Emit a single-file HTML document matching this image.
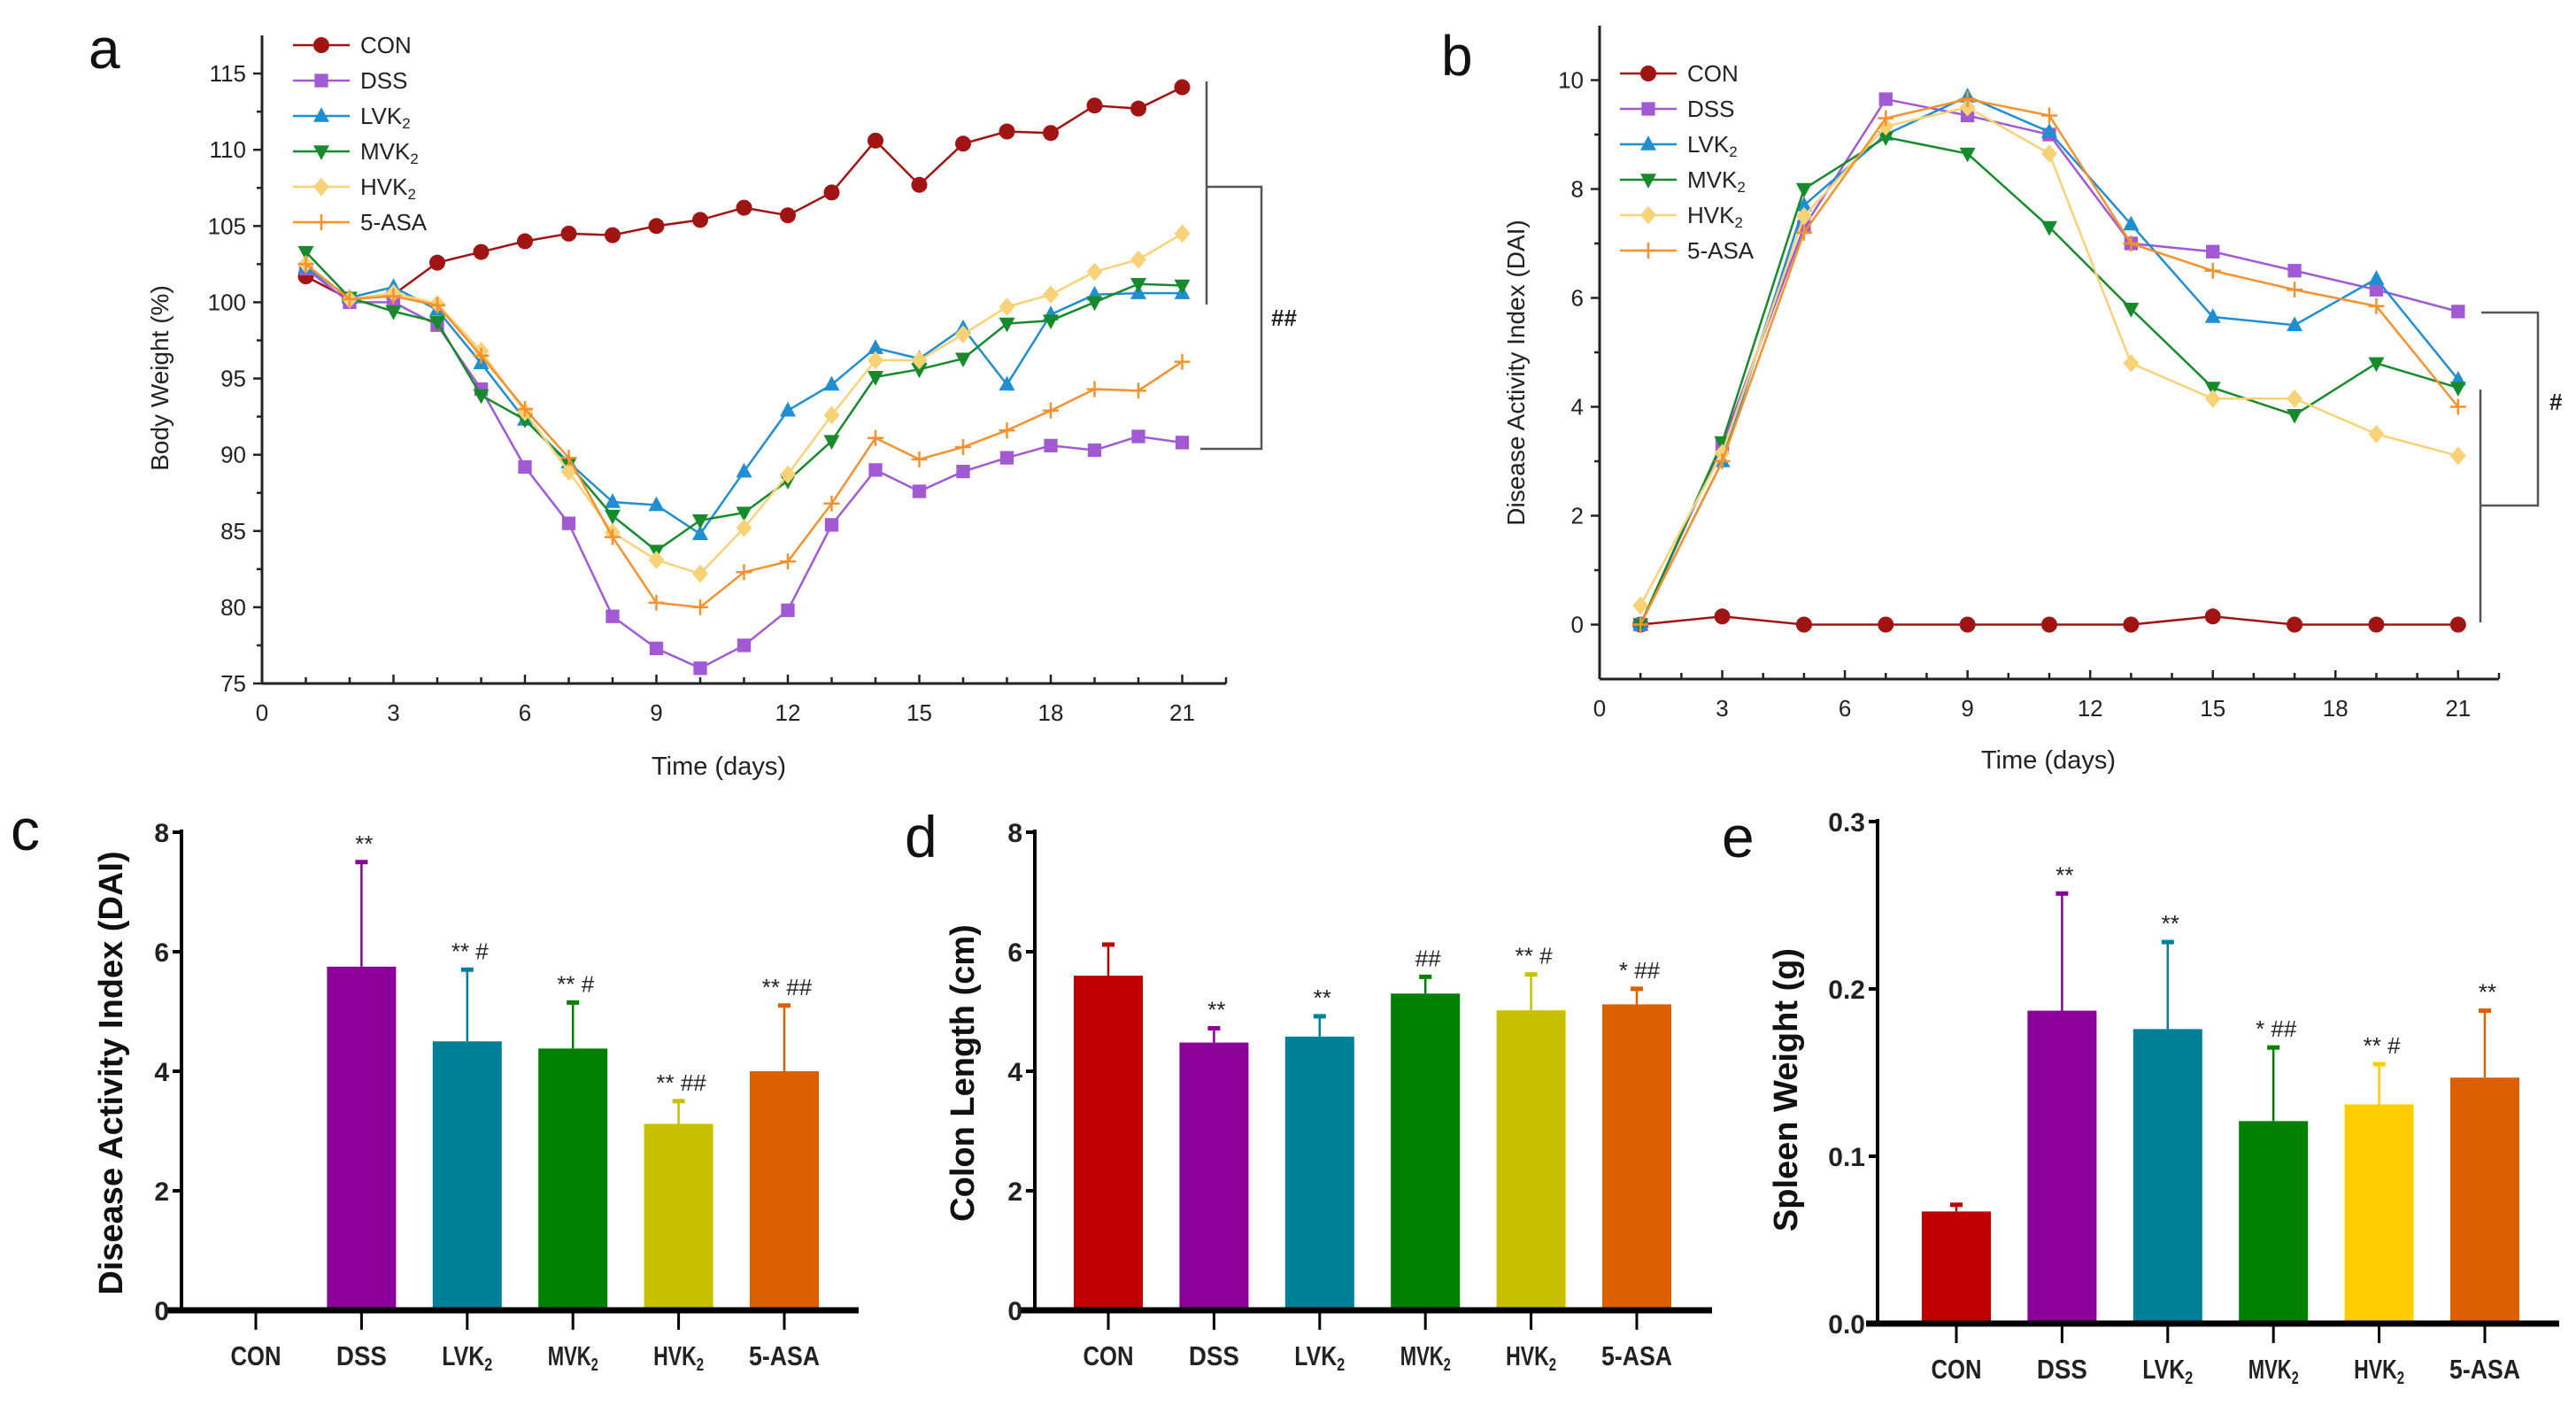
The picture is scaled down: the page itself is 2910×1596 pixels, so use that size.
<!DOCTYPE html>
<html><head><meta charset="utf-8">
<style>
html,body{margin:0;padding:0;background:#fff;}
svg{display:block;font-family:"Liberation Sans",sans-serif;}
</style></head>
<body>
<svg id="fig" width="2910" height="1596" viewBox="0 0 2910 1596" xmlns="http://www.w3.org/2000/svg"></svg>
<script>
// ---------- Panel a data ----------
const daysA = [1,2,3,4,5,6,7,8,9,10,11,12,13,14,15,16,17,18,19,20,21];
const bwCON = [101.7,100.2,100.5,102.6,103.3,104.0,104.5,104.4,105.0,105.4,106.2,105.7,107.2,110.6,107.7,110.4,111.2,111.1,112.9,112.7,114.1];
const bwDSS = [102.2,100.0,100.0,98.5,94.3,89.2,85.5,79.4,77.3,76.0,77.5,79.8,85.4,89.0,87.6,88.9,89.8,90.6,90.3,91.2,90.8];
const bwLVK = [102.3,100.3,101.0,99.5,96.0,92.3,89.5,86.9,86.7,84.8,88.9,92.9,94.6,97.0,96.3,98.3,94.6,99.2,100.5,100.6,100.6];
const bwMVK = [103.3,100.3,99.4,98.7,93.9,92.3,89.4,86.0,83.7,85.7,86.2,88.3,90.9,95.1,95.6,96.3,98.6,98.8,100.0,101.2,101.1];
const bwHVK = [102.5,100.2,100.6,99.9,96.8,92.8,88.9,84.9,83.1,82.2,85.2,88.7,92.6,96.2,96.2,97.9,99.7,100.5,102.0,102.8,104.5];
const bwASA = [102.5,100.2,100.4,99.8,96.5,93.0,89.8,84.6,80.3,80.0,82.3,83.0,86.8,91.1,89.7,90.5,91.6,92.9,94.3,94.2,96.1];
const ticksAY = [75,80,85,90,95,100,105,110,115];
const ticksX = [0,3,6,9,12,15,18,21];
// ---------- Panel b data ----------
const daysB = [1,3,5,7,9,11,13,15,17,19,21];
const daiCON = [0,0.15,0,0,0,0,0,0.15,0,0,0];
const daiDSS = [0,3.3,7.3,9.65,9.35,9.0,7.0,6.85,6.5,6.15,5.75];
const daiLVK = [0,3.0,7.7,9.0,9.7,9.05,7.35,5.65,5.5,6.35,4.5];
const daiMVK = [0,3.35,8.0,8.95,8.65,7.3,5.8,4.35,3.85,4.8,4.35];
const daiHVK = [0.35,3.15,7.5,9.15,9.5,8.65,4.8,4.15,4.15,3.5,3.1];
const daiASA = [0,3.0,7.2,9.3,9.65,9.35,7.0,6.5,6.15,5.85,4.0];
const ticksBY = [0,2,4,6,8,10];
// ---------- Bar panels data ----------
const groups = ["CON","DSS","LVK","MVK","HVK","5-ASA"];
const daiMean = [0,5.75,4.5,4.38,3.12,4.0];
const daiErr  = [0,1.75,1.2,0.77,0.38,1.1];
const daiSig  = ["","**","** #","** #","** ##","** ##"];
const colonMean = [5.6,4.48,4.58,5.3,5.02,5.12];
const colonErr  = [0.52,0.24,0.34,0.28,0.6,0.26];
const colonSig  = ["","**","**","##","** #","* ##"];
const spleenMean = [0.067,0.187,0.176,0.121,0.131,0.147];
const spleenErr  = [0.004,0.07,0.052,0.044,0.024,0.04];
const spleenSig  = ["","**","**","* ##","** #","**"];
const ticksCD = [0,2,4,6,8];
const ticksE = [0.0,0.1,0.2,0.3];

const NS="http://www.w3.org/2000/svg";
const svg=document.getElementById('fig');
function mk(tag,attrs,parent,text){const e=document.createElementNS(NS,tag);for(const k in attrs)e.setAttribute(k,attrs[k]);if(text!==undefined)e.textContent=text;(parent||svg).appendChild(e);return e;}
function grp(name,parent){const g=mk('g',{},parent);return g;}

const lineCols={CON:'#a01414',DSS:'#a25ad4',LVK:'#1f8fd2',MVK:'#178a2c',HVK:'#f7d277',ASA:'#f5922e'};
const lineMk={CON:'circle',DSS:'square',LVK:'tri',MVK:'tridown',HVK:'diamond',ASA:'plus'};
function marker(g,type,x,y,c,r){
  if(type==='circle') return mk('circle',{cx:x,cy:y,r:r,fill:c},g);
  if(type==='square') return mk('rect',{x:x-r*0.85,y:y-r*0.85,width:r*1.7,height:r*1.7,fill:c},g);
  if(type==='tri') return mk('polygon',{points:`${x},${y-r*1.1} ${x-r},${y+r*0.75} ${x+r},${y+r*0.75}`,fill:c},g);
  if(type==='tridown') return mk('polygon',{points:`${x},${y+r*1.1} ${x-r},${y-r*0.75} ${x+r},${y-r*0.75}`,fill:c},g);
  if(type==='diamond') return mk('polygon',{points:`${x},${y-r*1.15} ${x+r},${y} ${x},${y+r*1.15} ${x-r},${y}`,fill:c},g);
  if(type==='plus') return mk('path',{d:`M${x-r} ${y}H${x+r}M${x} ${y-r}V${y+r}`,stroke:c,'stroke-width':2.5},g);
}
function sub(t,parent,attrs,name){
  const e=mk('text',attrs,parent);
  if(/VK$/.test(t)){e.appendChild(document.createTextNode(t));mk('tspan',{'font-size':'65%',dy:'0.3em'},e,'2');}
  else e.textContent=t;
  
  return e;
}

function linePanel(cfg){
  const g=grp(cfg.name);
  const sx=v=>cfg.x0+(v-cfg.xmin)*(cfg.x1-cfg.x0)/(cfg.xmax-cfg.xmin);
  const sy=v=>cfg.y0+(v-cfg.ymin)*(cfg.y1-cfg.y0)/(cfg.ymax-cfg.ymin);
  const ax=grp('axes',g);
  mk('line',{x1:sx(cfg.xmin),y1:sy(cfg.ymin),x2:sx(cfg.xmax),y2:sy(cfg.ymin),stroke:'#222','stroke-width':3},ax);
  mk('line',{x1:sx(cfg.xmin),y1:sy(cfg.ymin),x2:sx(cfg.xmin),y2:sy(cfg.ymax),stroke:'#222','stroke-width':3},ax);
  for(let d=1;d<=cfg.xmax;d++){const big=ticksX.includes(d);mk('line',{x1:sx(d),x2:sx(d),y1:sy(cfg.ymin),y2:sy(cfg.ymin)-(big?10:7),stroke:'#222','stroke-width':2.5},ax);}
  ticksX.forEach(t=>{const e=mk('text',{x:sx(t),y:sy(cfg.ymin)+42,'font-size':26,'text-anchor':'middle',fill:'#222'},ax,String(t));});
  cfg.yticks.forEach((t,i)=>{
    mk('line',{x1:sx(cfg.xmin),x2:sx(cfg.xmin)-10,y1:sy(t),y2:sy(t),stroke:'#222','stroke-width':2.5},ax);
    if(i<cfg.yticks.length-1){const m=(t+cfg.yticks[i+1])/2;mk('line',{x1:sx(cfg.xmin),x2:sx(cfg.xmin)-6,y1:sy(m),y2:sy(m),stroke:'#222','stroke-width':2.5},ax);}
    const e=mk('text',{x:sx(cfg.xmin)-18,y:sy(t)+9,'font-size':26,'text-anchor':'end',fill:'#222'},ax,String(t));
  });
  const xt=mk('text',{x:cfg.xtx,y:cfg.xty,'font-size':29,'text-anchor':'middle',fill:'#222'},g,'Time (days)');
  
  const yt=mk('text',{x:0,y:0,'font-size':28,'text-anchor':'middle',fill:'#222',transform:`translate(${cfg.ytx},${cfg.yty}) rotate(-90)`},g,cfg.ytitle);
  
  const pl=mk('text',{x:cfg.plx,y:cfg.ply,'font-size':64,fill:'#111'},g,cfg.letter);
  
  cfg.series.forEach(s=>{
    const sg=grp('series-'+s.key.toLowerCase(),g);
    const pts=cfg.xs.map((d,i)=>sx(d)+','+sy(s.v[i])).join(' ');
    mk('polyline',{points:pts,fill:'none',stroke:lineCols[s.key],'stroke-width':2.5},sg);
    cfg.xs.forEach((d,i)=>{const m=marker(sg,lineMk[s.key],sx(d),sy(s.v[i]),lineCols[s.key],9);});
  });
  const lg=grp('legend',g);
  cfg.series.forEach((s,i)=>{
    const y=cfg.ly+i*cfg.lsp;
    const le=grp('legend-entry',lg);
    mk('line',{x1:cfg.lx-32,x2:cfg.lx+32,y1:y,y2:y,stroke:lineCols[s.key],'stroke-width':2.5},le);
    marker(le,lineMk[s.key],cfg.lx,y,lineCols[s.key],9);
    sub(s.label,le,{x:cfg.lx+44,y:y+9,'font-size':26,fill:'#222'},'legend-label');
  });
  return {sx,sy,g};
}
const serA=[{key:'CON',label:'CON',v:bwCON},{key:'DSS',label:'DSS',v:bwDSS},{key:'LVK',label:'LVK',v:bwLVK},{key:'MVK',label:'MVK',v:bwMVK},{key:'HVK',label:'HVK',v:bwHVK},{key:'ASA',label:'5-ASA',v:bwASA}];
const pa=linePanel({name:'panel-a-body-weight',x0:296,x1:1385,xmin:0,xmax:22,y0:772,y1:40,ymin:75,ymax:117.5,yticks:ticksAY,xs:daysA,series:serA,
  xtx:812,xty:875,ytitle:'Body Weight (%)',ytx:190,yty:427,letter:'a',plx:100,ply:77,lx:363,ly:51,lsp:40});
let bg=grp('significance-bracket-a',pa.g);
mk('path',{d:'M1363 92V344',stroke:'#555','stroke-width':2.5,fill:'none'},bg);
mk('path',{d:'M1363 211H1425V507H1356',stroke:'#555','stroke-width':2.5,fill:'none'},bg);
mk('text',{x:1436,y:368,'font-size':26,'font-weight':'bold',fill:'#222'},bg,'##');

const serB=[{key:'CON',label:'CON',v:daiCON},{key:'DSS',label:'DSS',v:daiDSS},{key:'LVK',label:'LVK',v:daiLVK},{key:'MVK',label:'MVK',v:daiMVK},{key:'HVK',label:'HVK',v:daiHVK},{key:'ASA',label:'5-ASA',v:daiASA}];
const pb=linePanel({name:'panel-b-dai-time',x0:1807,x1:2823,xmin:0,xmax:22,y0:767,y1:29,ymin:-1,ymax:11,yticks:ticksBY,xs:daysB,series:serB,
  xtx:2314,xty:868,ytitle:'Disease Activity Index (DAI)',ytx:1722,yty:421,letter:'b',plx:1628,ply:85,lx:1862,ly:83,lsp:40});
bg=grp('significance-bracket-b',pb.g);
mk('path',{d:'M2803 353H2867V571H2802',stroke:'#555','stroke-width':2.5,fill:'none'},bg);
mk('path',{d:'M2802 440V703',stroke:'#555','stroke-width':2.5,fill:'none'},bg);
mk('text',{x:2880,y:463,'font-size':26,'font-weight':'bold',fill:'#222'},bg,'#');

function barPanel(cfg){
  const g=grp(cfg.name);
  const sy=v=>cfg.y0+(v-cfg.ymin)*(cfg.y1-cfg.y0)/(cfg.ymax-cfg.ymin);
  const sx=i=>cfg.c0+i*cfg.step;
  const bw=78;
  cfg.mean.forEach((m,i)=>{
    const c=cfg.colors[i];
    const bgp=grp('bar-'+groups[i].toLowerCase(),g);
    if(m>0){
      const top=sy(m+cfg.err[i]);
      mk('line',{x1:sx(i),x2:sx(i),y1:sy(m),y2:top,stroke:c,'stroke-width':2.5},bgp);
      mk('line',{x1:sx(i)-7,x2:sx(i)+7,y1:top,y2:top,stroke:c,'stroke-width':5},bgp);
      mk('rect',{x:sx(i)-bw/2,y:sy(m),width:bw,height:sy(cfg.ymin)-sy(m),fill:c},bgp);
    }
    if(cfg.sig[i]){const t=mk('text',{x:sx(i)+3,y:sy(m+cfg.err[i])-12,'font-size':26,'text-anchor':'middle',fill:'#222'},bgp,cfg.sig[i]);}
  });
  const ax=grp('axes',g);
  mk('line',{x1:cfg.ax0,x2:cfg.ax1,y1:sy(cfg.ymin),y2:sy(cfg.ymin),stroke:'#000','stroke-width':7},ax);
  mk('line',{x1:cfg.yx,x2:cfg.yx,y1:sy(cfg.ymin),y2:sy(cfg.ymax)-3,stroke:'#000','stroke-width':4},ax);
  cfg.ticks.forEach(t=>{
    mk('line',{x1:cfg.yx,x2:cfg.yx-10,y1:sy(t),y2:sy(t),stroke:'#000','stroke-width':4},ax);
    const e=mk('text',{x:cfg.yx-14,y:sy(t)+11,'font-size':30,'font-weight':'bold','text-anchor':'end',fill:'#222'},ax,cfg.fmt(t));
  });
  groups.forEach((n,i)=>{
    mk('line',{x1:sx(i),x2:sx(i),y1:sy(cfg.ymin),y2:sy(cfg.ymin)+22,stroke:'#000','stroke-width':3},ax);
    sub(n,ax,{x:sx(i),y:sy(cfg.ymin)+62,'font-size':31,'font-weight':'bold','text-anchor':'middle',fill:'#222',textLength:Math.min(n.length*19,80),lengthAdjust:'spacingAndGlyphs'},'x-tick-label');
  });
  const yt=mk('text',{x:0,y:0,'font-size':38,'font-weight':'bold','text-anchor':'middle',fill:'#111',transform:`translate(${cfg.ytx},${cfg.yty}) rotate(-90)`},g,cfg.ytitle);
  
  const pl=mk('text',{x:cfg.plx,y:cfg.ply,'font-size':66,fill:'#111'},g,cfg.letter);
  
}
const colsCD=['#c00000','#8b0099','#007f99','#008000','#c6c000','#dd6000'];
const colsE=['#c00000','#8b0099','#007f99','#008000','#ffcc00','#dd6000'];
barPanel({name:'panel-c-dai-bars',y0:1480,y1:940,ymin:0,ymax:8,c0:289,step:119.4,mean:daiMean,err:daiErr,sig:daiSig,colors:colsCD,ax0:187,ax1:970,yx:205,ticks:ticksCD,fmt:t=>String(t),ytitle:'Disease Activity Index (DAI)',ytx:138,yty:1212,letter:'c',plx:12,ply:960});
barPanel({name:'panel-d-colon-length',y0:1480,y1:940,ymin:0,ymax:8,c0:1252,step:119.4,mean:colonMean,err:colonErr,sig:colonSig,colors:colsCD,ax0:1151,ax1:1934,yx:1169,ticks:ticksCD,fmt:t=>String(t),ytitle:'Colon Length (cm)',ytx:1100,yty:1212,letter:'d',plx:1022,ply:968});
barPanel({name:'panel-e-spleen-weight',y0:1495,y1:928,ymin:0,ymax:0.3,c0:2210,step:119.4,mean:spleenMean,err:spleenErr,sig:spleenSig,colors:colsE,ax0:2108,ax1:2891,yx:2121,ticks:ticksE,fmt:t=>t.toFixed(1),ytitle:'Spleen Weight (g)',ytx:2030,yty:1231,letter:'e',plx:1945,ply:968});
</script>
</body></html>
